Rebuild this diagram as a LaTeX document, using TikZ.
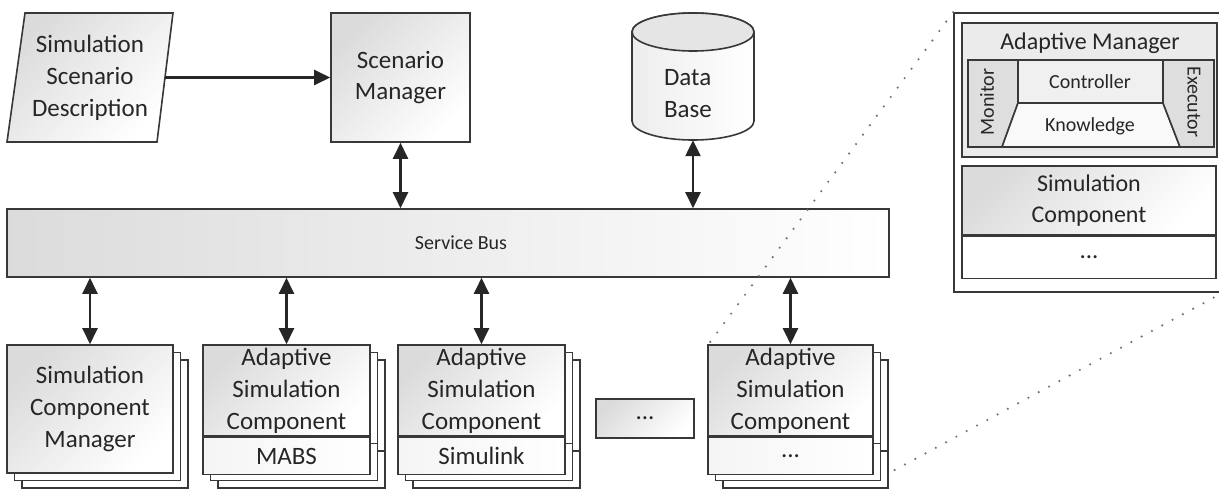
\documentclass[tikz,border=0pt]{standalone}
\usepackage{fontspec}
\setmainfont{Carlito}
\usetikzlibrary{arrows.meta,calc}

% two offset copies behind a front box: x1 y1 x2 y2, optional divider y
\newcommand\backcopies[5]{%
  \foreach \o in {15,7.5}{%
    \draw[line, fill=white] ({#1+\o},{#2+\o}) rectangle ({#3+\o},{#4+\o});
    \ifx\relax#5\relax\else\draw[line] ({#1+\o},{#5+\o}) -- ({#3+\o},{#5+\o});\fi
  }}

\begin{document}
\begin{tikzpicture}[x=1pt,y=-1pt,
  line/.style={draw=black!78, line width=1.6pt},
  txt/.style={text=black!85, font=\fontsize{25}{32}\selectfont, align=center, inner sep=0pt},
  small/.style={txt, font=\fontsize{20}{24}\selectfont},
  box/.style={line, txt, top color=gray!28, bottom color=white, shading angle=45},
  lowerbox/.style={line, txt, left color=gray!8, right color=white},
  plainbox/.style={line, fill=white, inner sep=0pt},
  biarrow/.style={line width=2.4pt, draw=black!85,
    {Triangle[length=16pt,width=15pt]}-{Triangle[length=16pt,width=15pt]}},
  onearrow/.style={line width=2.4pt, draw=black!85, -{Triangle[length=16pt,width=15pt]}},
  zoomline/.style={draw=black!55, line width=2.4pt, line cap=round, dash pattern=on 0pt off 11.7pt}
]
\useasboundingbox (0,0) rectangle (1219,490);

% ---------- top row ----------
\path[line, top color=gray!28, bottom color=white, shading angle=45]
  (25,13) -- (173,13) -- (157,142) -- (7,142) -- cycle;
\node[txt, minimum width=150pt, minimum height=129pt] (ssd) at (90,77.5)
  {Simulation\\Scenario\\Description};

\node[box, minimum width=139pt, minimum height=129pt, font=\fontsize{25}{31}\selectfont]
  (sm) at (400.5,77.5) {Scenario\\Manager};

% data base cylinder
\path[line, left color=gray!14, right color=white]
  (632,32) -- (632,121)
  arc[start angle=180, end angle=360, x radius=61pt, y radius=19pt]
  -- (754,32)
  arc[start angle=0, end angle=180, x radius=61pt, y radius=19pt] -- cycle;
\path[line, fill=gray!20] (693,32) ellipse[x radius=61pt, y radius=19pt];
\node[inner sep=0pt, minimum width=122pt, minimum height=127pt] (db) at (693,76.5) {};
\node[txt, align=left] (dbt) at (688,94) {Data\\Base};

% ---------- service bus ----------
\node[line, small, left color=gray!28, right color=white,
  minimum width=882pt, minimum height=68pt] (bus) at (448,243) {\hspace*{26pt}Service Bus};

% ---------- zoom-in detail panel ----------
\node[plainbox, minimum width=270pt, minimum height=279pt] (outer) at (1089,152.5) {};
\node[line, fill=gray!16, inner sep=0pt, minimum width=255pt, minimum height=134pt] (am) at (1089.5,90) {};
\node[txt, font=\fontsize{24}{28}\selectfont] (amt) at (1090,43) {Adaptive Manager};
% monitor / controller / knowledge / executor
\path[line, fill=gray!26] (968,60) -- (1018,60) -- (1018,103) -- (1002,147) -- (968,147) -- cycle;
\path[line, fill=gray!12] (1018,60) rectangle (1163,103);
\path[line, fill=gray!5] (1018,103) -- (1163,103) -- (1180,147) -- (1002,147) -- cycle;
\path[line, fill=gray!26] (1163,60) -- (1214,60) -- (1214,147) -- (1180,147) -- (1163,103) -- cycle;
\node[inner sep=0pt, line, minimum width=246pt, minimum height=87pt] (mape) at (1091,103.5) {};
\node[small, rotate=90] (mon) at (987,102) {Monitor};
\node[small] (ctl) at (1090,82) {Controller};
\node[small] (kno) at (1090,126) {Knowledge};
\node[small, rotate=-90] (exe) at (1194,102) {Executor};
% simulation component
\node[box, font=\fontsize{24}{31}\selectfont, minimum width=254pt, minimum height=69pt]
  (sc) at (1089,200.5) {Simulation\\Component};
\node[line, txt, fill=white, minimum width=254pt, minimum height=42pt, anchor=north]
  (scx) at (sc.south) {...};

% ---------- zoom guide lines ----------
\coordinate (zend) at (878,479);
\draw[zoomline] (outer.north west) -- (708,345);
\draw[zoomline] (1224,292) -- (zend);

% ---------- component stacks ----------
\backcopies{7}{345}{173}{473}{}
\node[box, minimum width=166pt, minimum height=128pt] (scm) at (90,409)
  {Simulation\\Component\\Manager};

\backcopies{203}{345}{370}{473}{436}
\node[box, minimum width=167pt, minimum height=91pt] (asc1) at (286.5,390.5)
  {Adaptive\\Simulation\\Component};
\node[lowerbox, minimum width=167pt, minimum height=37pt, anchor=north] (mabs) at (asc1.south) {MABS};

\backcopies{398}{345}{565}{473}{436}
\node[box, minimum width=167pt, minimum height=91pt] (asc2) at (481.5,390.5)
  {Adaptive\\Simulation\\Component};
\node[lowerbox, minimum width=167pt, minimum height=37pt, anchor=north] (slk) at (asc2.south) {Simulink};

\node[box, minimum width=98pt, minimum height=39pt] (more) at (645,418.5) {...};

\backcopies{708}{345}{873}{473}{436}
\node[box, minimum width=165pt, minimum height=91pt] (asc3) at (790.5,390.5)
  {Adaptive\\Simulation\\Component};
\node[lowerbox, minimum width=165pt, minimum height=37pt, anchor=north] (etc) at (asc3.south) {...};

% ---------- connectors ----------
\draw[onearrow] (ssd.east) -- (sm.west);
\draw[biarrow] (sm.south) -- (sm.south |- bus.north);
\draw[biarrow] (db.south) -- (db.south |- bus.north);
\draw[biarrow] (bus.south -| scm.north) -- (scm.north);
\draw[biarrow] (bus.south -| asc1.north) -- (asc1.north);
\draw[biarrow] (bus.south -| asc2.north) -- (asc2.north);
\draw[biarrow] (bus.south -| asc3.north) -- (asc3.north);
\end{tikzpicture}
\end{document}
